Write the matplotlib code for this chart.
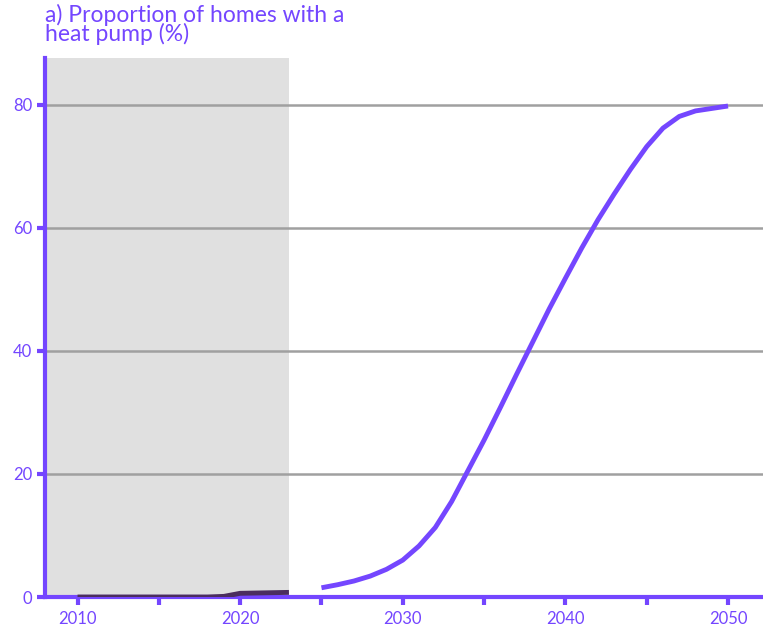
import matplotlib.pyplot as plt

# historical values (shaded period)
hist_years = [2010, 2011, 2012, 2013, 2014, 2015, 2016, 2017, 2018, 2019, 2020, 2021, 2022, 2023]
hist_share = [0.0, 0.0, 0.0, 0.0, 0.0, 0.0, 0.0, 0.0, 0.0, 0.1, 0.6, 0.65, 0.7, 0.75]

# projected pathway
proj_years = list(range(2025, 2051))
proj_share = [1.5, 2.0, 2.6, 3.4, 4.5, 6.0, 8.3, 11.3, 15.5, 20.5, 25.5, 30.8, 36.2,
              41.5, 46.8, 51.8, 56.7, 61.3, 65.5, 69.5, 73.2, 76.2, 78.1, 79.0, 79.4, 79.8]

purple = '#7446ff'
dark = '#4b2d5e'

plt.rcParams['font.family'] = ['Lato', 'DejaVu Sans']

fig = plt.figure(figsize=(7.63, 6.31), dpi=100)
ax = fig.add_axes([45 / 763, 34 / 631, 718 / 763, 539 / 631])

ax.axvspan(2008, 2023, color='#e0e0e0', zorder=0, lw=0)
for y in [20, 40, 60, 80]:
    ax.axhline(y, color='#a0a0a0', lw=1.8, zorder=1)

ax.plot(hist_years, hist_share, color=dark, lw=3.5, zorder=5, solid_capstyle='butt')
ax.plot(proj_years, proj_share, color=purple, lw=3.5, zorder=3, solid_capstyle='butt')

ax.set_xlim(2008, 2052.15)
ax.set_ylim(0, 87.6)
ax.set_xticks([2010, 2020, 2030, 2040, 2050])
ax.set_xticks([2015, 2025, 2035, 2045], minor=True)
ax.set_yticks([0, 20, 40, 60, 80])

for s in ['top', 'right']:
    ax.spines[s].set_visible(False)
for s in ['left', 'bottom']:
    ax.spines[s].set_color(purple)
    ax.spines[s].set_linewidth(3)
ax.spines['bottom'].set_zorder(4)

ax.tick_params(axis='x', which='both', colors=purple, length=6, width=3, labelsize=12, pad=4)
ax.tick_params(axis='y', colors=purple, length=6, width=3, labelsize=12, pad=3)

fig.text(45 / 763, 1 - 45 / 631, 'a) Proportion of homes with a\nheat pump (%)',
         color=purple, fontsize=16.5, ha='left', va='bottom', linespacing=0.85)

fig.savefig('out.png', dpi=100)
